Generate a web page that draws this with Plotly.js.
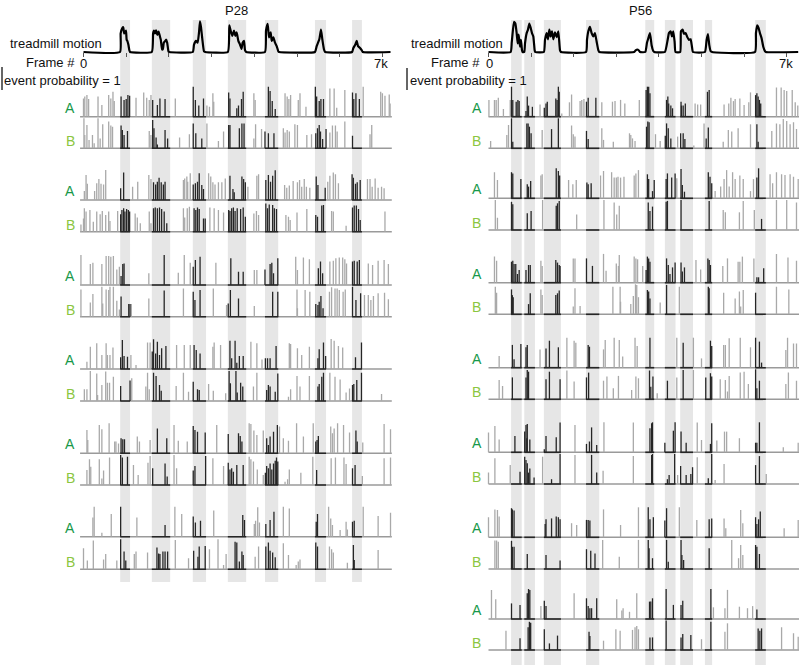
<!DOCTYPE html>
<html>
<head>
<meta charset="utf-8">
<script src="https://cdn.plot.ly/plotly-3.0.1.min.js"></script>
<style>body{margin:0;background:#fff}#chart{width:800px;height:665px}</style>
</head>
<body>
<div id="chart"></div>
<script>
// ---- data (frames, event probability / normalised speed) ----
const frameTicks = [0, 1000, 2000, 3000, 4000, 5000, 6000, 7000];
const frameTickText = ['0', '7k'];   // only the ends are labelled

// motion epochs (start/end frame)
const p28BandStart = [860, 1600, 2560, 3380, 4250, 5420, 6290];
const p28BandEnd   = [1090, 2030, 2870, 3810, 4560, 5680, 6520];
const p56BandStart = [530, 840, 1300, 2290, 3680, 4140, 4500, 5080, 6260];
const p56BandEnd   = [780, 1090, 1700, 2600, 3890, 4390, 4800, 5250, 6510];

// treadmill motion
const p28MotionFrame = [0, 855, 870, 909, 933, 950, 972, 995, 1010, 1026, 1050, 1075, 1089,
  1600, 1630, 1650, 1674, 1700, 1730, 1760, 1790, 1810, 1840, 1860, 1880, 1910, 1935, 1960, 1990, 2010,
  2560, 2588, 2635, 2673, 2705, 2728, 2752, 2783, 2822, 2850,
  3380, 3415, 3446, 3485, 3525, 3556, 3587, 3626, 3665, 3700, 3727, 3759, 3782, 3810,
  4250, 4274, 4313, 4344, 4383, 4407, 4446, 4485, 4524, 4563, 4580,
  5420, 5461, 5523, 5562, 5593, 5632, 5660,
  6290, 6320, 6366, 6398, 6429, 6476, 6515, 6540, 7190];
const p28MotionValue = [0, 0, .6, .77, .8, .6, .63, .69, .4, .36, .24, .05, 0,
  0, .6, .69, .6, .7, .55, .66, .5, .4, .08, .1, .3, .35, .4, .3, .02, 0,
  0, .24, .36, .3, .63, .99, .8, .41, .02, 0,
  0, .86, .69, .52, .69, .52, .63, .36, .24, .1, .3, .36, .06, 0,
  0, .69, .91, .47, .63, .36, .47, .3, .19, .02, 0,
  0, .19, .41, .72, .41, .08, 0,
  0, .13, .24, .36, .19, .13, .06, 0, 0];

const p56MotionFrame = [0, 520, 545, 559, 598, 630, 661, 685, 708, 739, 763, 786, 800,
  840, 857, 896, 927, 958, 990, 1021, 1052, 1083, 1095,
  1300, 1326, 1365, 1396, 1428, 1459, 1490, 1522, 1561, 1600, 1639, 1678, 1700,
  2290, 2312, 2343, 2382, 2421, 2460, 2499, 2539, 2578, 2600,
  3420, 3454, 3493, 3530, 3556,
  3680, 3720, 3751, 3790, 3829, 3868, 3890,
  4140, 4205, 4236, 4276, 4307, 4338, 4369, 4390,
  4500, 4518, 4557, 4588, 4627, 4667, 4706, 4745, 4776, 4800,
  5080, 5120, 5151, 5183, 5214, 5250,
  6256, 6278, 6309, 6340, 6372, 6411, 6450, 6489, 6510, 7270];
const p56MotionValue = [0, 0, .3, .5, .97, .92, .61, .28, .56, .17, .39, .06, 0,
  0, .28, .61, .72, .92, .78, .61, .5, .06, 0,
  0, .39, .61, .41, .72, .5, .67, .41, .63, .48, .67, .06, 0,
  0, .39, .67, .81, .61, .5, .61, .33, .06, 0,
  0, .05, .08, .05, 0,
  0, .3, .44, .61, .22, .03, 0,
  0, .39, .61, .67, .5, .67, .33, 0,
  0, .67, .72, .59, .61, .48, .39, .41, .17, 0,
  0, .39, .58, .22, .03, 0,
  0, .61, .86, .78, .61, .44, .17, .03, 0, 0];

// event traces: [frame, event probability]
const p28_A1 = [[0,.61],[30,.67],[80,.72],[120,.59],[340,.67],[430,.39],[590,.72],[640,.61],[690,.83],[720,.52],[880,.67],[950,.56],[1000,.59],[1040,.72],[1080,.7],[1230,.63],[1410,.81],[1480,.63],[1540,.56],[1580,.72],[1620,.56],[1730,.39],[1790,.61],[1910,.59],[2150,.61],[2570,1],[2620,.56],[2700,.37],[2810,.61],[2890,.37],[2950,.33],[3030,.78],[3050,.5],[3400,.81],[3430,.61],[3590,.28],[3630,.37],[3700,.59],[3740,.83],[3990,.78],[4020,.56],[4330,1],[4370,.86],[4420,.52],[4490,.26],[4720,.78],[4770,.67],[4810,.59],[4850,.72],[5030,.56],[5070,.78],[5210,.33],[5430,1],[5460,.67],[5520,.52],[5560,.59],[5620,.59],[5770,.94],[5870,.94],[5930,.3],[6120,.89],[6300,.81],[6330,.59],[6380,.78],[6460,.59],[6550,1],[6960,.83],[7000,.78],[7060,.7],[7160,.74],[7180,.44]];
const p28_B1 = [[10,1],[30,.44],[80,.78],[130,.28],[210,.44],[250,.17],[340,1],[390,.33],[450,.8],[590,.89],[640,.76],[680,.72],[880,.76],[910,.61],[950,.44],[1030,.58],[1540,.58],[1580,.44],[1620,.94],[1650,.67],[1700,.36],[1730,.13],[1910,.61],[1970,.33],[2250,.36],[2480,.47],[2570,.83],[2630,.5],[2770,.33],[2890,.83],[3160,.24],[3280,.56],[3400,.78],[3430,.78],[3650,.67],[3710,.83],[3760,.83],[3990,.33],[4030,.8],[4170,.64],[4250,.56],[4330,.5],[4460,.5],[4680,.67],[4720,.53],[4770,.61],[4820,.56],[4950,.8],[5010,.78],[5230,.44],[5340,.47],[5440,.5],[5480,.67],[5520,.78],[5550,.56],[5600,.31],[5680,.64],[5770,.53],[5830,.76],[5900,.76],[5940,.56],[6120,.89],[6300,.42],[6710,.47],[6750,.78]];
const p28_A2 = [[20,.3],[60,.83],[90,.54],[260,.3],[310,.56],[360,.7],[410,.54],[470,.52],[520,1],[870,.39],[940,.92],[1150,.44],[1270,.61],[1530,.83],[1580,.7],[1640,.59],[1690,.52],[1730,.61],[1770,.74],[1820,.59],[1870,.52],[1910,.61],[2340,.67],[2370,.72],[2420,.78],[2440,.61],[2500,.89],[2570,.52],[2620,.56],[2670,.61],[2710,.89],[2770,.5],[2810,.37],[2930,.89],[2980,.78],[3030,.59],[3080,.52],[3160,.59],[3240,.59],[3320,.72],[3430,.81],[3500,.37],[3530,.26],[3710,.78],[3750,.7],[3790,.59],[3850,.44],[4060,.81],[4100,.86],[4270,.67],[4330,.83],[4380,.61],[4430,.81],[4490,.99],[4710,.5],[4760,.41],[4820,.48],[4910,.63],[5010,.59],[5060,.67],[5110,.44],[5170,.7],[5220,.44],[5300,.41],[5450,.78],[5490,.5],[5660,.41],[5720,.61],[5770,.81],[5850,.92],[5900,.86],[5970,.56],[6290,.86],[6320,.74],[6370,.54],[6410,.59],[6480,.67],[6650,.7],[6710,.7],[6760,.44],[6830,.72],[6900,.41],[6980,.44],[7040,.39]];
const p28_B2 = [[-60,.24],[0,.44],[20,.78],[60,.67],[150,.72],[230,.33],[310,.67],[390,.58],[440,.69],[520,.56],[590,.67],[620,.36],[800,.69],[870,.58],[900,.72],[940,.78],[970,.67],[1010,.76],[1050,.72],[1080,.67],[1210,.61],[1260,.47],[1330,.28],[1540,.67],[1580,.28],[1640,.78],[1680,.81],[1730,.78],[1780,.81],[1830,.76],[1890,.67],[1950,.28],[2340,.78],[2370,.47],[2430,.78],[2480,.83],[2590,.78],[2630,.72],[2670,.81],[2710,.76],[2810,.44],[2850,.44],[2960,.81],[3060,.78],[3160,.72],[3280,.64],[3400,.72],[3430,.69],[3470,.78],[3510,.81],[3550,.69],[3600,.78],[3680,.76],[3740,.81],[3790,.5],[3990,.61],[4050,.69],[4100,.56],[4270,.94],[4310,.78],[4350,.91],[4430,.89],[4470,.78],[4520,.76],[4740,.56],[4800,.5],[4840,.39],[5000,.64],[5230,.76],[5440,.56],[5480,.5],[5580,.87],[5620,.89],[5810,.69],[5850,.67],[6150,.2],[6300,.81],[6340,.87],[6390,.87],[6440,.76],[6480,.39],[7060,.67]];
const p28_A3 = [[-60,1],[160,.7],[220,.74],[430,.7],[530,.97],[590,.97],[640,.94],[700,.97],[780,.52],[840,.61],[880,.3],[920,.7],[950,.72],[1530,.39],[1890,1],[2220,.41],[2360,1],[2500,.74],[2570,.61],[2620,.83],[2730,.94],[3100,.74],[3450,.89],[3630,.44],[3740,.44],[4000,.5],[4060,.5],[4250,.52],[4370,.7],[4410,.74],[4450,.39],[4550,.89],[4970,.94],[5010,.5],[5150,.92],[5290,.86],[5500,.56],[5550,.78],[5600,.39],[5770,.78],[5850,.81],[5910,.89],[5990,.92],[6070,.92],[6120,.86],[6160,.72],[6300,.78],[6340,.81],[6410,.78],[6460,.83],[6670,.72],[6770,.67],[6900,.81],[7040,.83],[7140,.7]];
const p28_B3 = [[-60,.91],[160,.47],[220,.76],[430,1],[450,.44],[530,.91],[590,.89],[620,1],[700,1],[780,.53],[840,.24],[880,.67],[1060,.42],[1090,.42],[1120,.42],[1530,.61],[1890,.87],[2340,.94],[2570,.83],[2610,.56],[2730,.89],[3040,.94],[3350,.39],[3390,.44],[3440,.89],[3630,.61],[4000,.36],[4430,.83],[4550,.83],[5000,.91],[5010,.28],[5190,.89],[5300,.83],[5440,.42],[5490,.39],[5520,.5],[5560,.69],[5610,.28],[5760,.83],[5810,.98],[5890,.94],[5940,.94],[5990,.89],[6080,.83],[6130,.91],[6300,1],[6380,.56],[6490,.78],[6580,.72],[6670,.72],[6730,.56],[6790,.69],[6900,.78],[7050,.8],[7140,.58]];
const p28_A4 = [[80,.24],[160,.74],[310,.86],[430,.47],[530,.86],[560,.47],[620,.47],[690,.72],[870,.39],[910,.97],[950,.43],[1030,.41],[1110,.47],[1230,.13],[1500,.88],[1560,.88],[1610,.58],[1640,.99],[1690,.52],[1730,.91],[1780,.47],[1830,.69],[1930,.77],[2180,.8],[2360,.8],[2500,.8],[2590,.8],[2640,.63],[2730,.52],[3030,.74],[3060,.88],[3210,.8],[3430,.94],[3470,.36],[3550,.94],[3590,.21],[3650,.43],[3740,.43],[3920,.91],[4060,.86],[4180,.32],[4260,.36],[4310,.36],[4370,.36],[4510,.77],[4820,.86],[4850,.83],[5010,.69],[5110,.47],[5290,.74],[5490,.36],[5520,.66],[5620,.88],[5670,.43],[5800,1],[5870,.94],[5970,.77],[6070,.72],[6370,.39],[6510,.88]];
const p28_B4 = [[20,.39],[80,.39],[160,1],[310,.92],[330,.2],[430,.53],[520,.98],[560,.61],[610,.61],[700,.81],[870,.5],[1090,.68],[1130,.76],[1460,.48],[1500,.94],[1540,.39],[1640,.94],[1700,.83],[1780,.53],[1820,.34],[2170,.5],[2340,.94],[2460,.31],[2570,.64],[2670,.39],[2710,.37],[2930,.57],[3040,.34],[3330,.26],[3410,1],[3440,.59],[3570,1],[3600,.28],[3680,.61],[3730,.48],[3980,.48],[4060,.94],[4290,.37],[4330,.53],[4370,.48],[4490,.31],[4550,.92],[4800,.14],[4850,.39],[5000,.83],[5070,.48],[5290,.83],[5490,.48],[5520,.57],[5580,.81],[5620,.94],[5770,.94],[5890,.81],[6010,.72],[6150,.28],[6230,.42],[6300,.53],[6330,.57],[6400,.7],[6510,.94],[6980,.23]];
const p28_A5 = [[80,.78],[100,.44],[370,.94],[430,.8],[600,1],[730,.39],[760,.39],[820,.33],[880,.5],[920,.47],[960,.47],[1260,.56],[1310,.39],[1560,.44],[1730,.83],[1950,.5],[2120,.94],[2220,.42],[2430,.39],[2570,.91],[2610,.78],[2670,.72],[2850,.69],[3120,.94],[3390,.64],[3630,.67],[3670,.58],[3710,.39],[3880,1],[3920,.98],[3990,.76],[4060,.61],[4210,.76],[4290,.5],[4330,.28],[4370,.56],[4450,.72],[4540,.94],[4590,.89],[4680,.5],[4800,.42],[4990,1],[5150,.56],[5380,1],[5440,.39],[5470,.44],[5500,.58],[5790,.89],[5830,.67],[5870,.83],[5950,1],[6090,.94],[6230,.69],[6380,.76],[6410,.39],[6540,.36],[7040,.98],[7190,.8]];
const p28_B5 = [[80,.5],[140,.86],[170,.61],[370,.86],[430,.22],[470,.48],[610,.92],[870,1],[910,.92],[1030,.94],[1170,.67],[1280,.33],[1510,.74],[1560,.97],[1620,.56],[1910,.72],[1960,.28],[2120,1],[2180,.56],[2570,.48],[2610,.63],[2860,.97],[3030,.89],[3280,.63],[3390,.74],[3430,.52],[3470,.56],[3510,.44],[3590,.67],[3740,.67],[3880,.94],[3920,.86],[3980,.78],[4070,.52],[4210,.33],[4260,.41],[4290,.63],[4330,.56],[4370,.72],[4410,.52],[4450,.72],[4490,.81],[4520,.92],[4550,.78],[4720,.11],[4780,.19],[4820,.52],[5090,.41],[5370,.94],[5460,.5],[5800,.89],[5900,.92],[6100,.92],[6150,.7],[6300,.56],[6360,.67],[6530,.3],[7040,.89],[7190,.92]];
const p28_A6 = [[220,.64],[250,1],[430,.13],[650,.76],[870,1],[1250,.64],[1910,.39],[2140,1],[2300,.76],[2570,.67],[2620,.47],[2740,.53],[3050,.87],[3730,.72],[3770,.56],[4000,.42],[4030,.53],[4080,.98],[4120,.47],[4270,.42],[4370,.56],[4460,.83],[4680,1],[4820,.94],[5450,.5],[5480,.76],[5740,1],[5790,.61],[5830,.39],[6010,.22],[6150,.5],[6180,.24],[6300,.5],[6340,.53],[6550,1],[6900,.69],[7190,.8]];
const p28_B6 = [[0,.7],[90,.29],[230,.96],[470,.33],[520,.51],[780,.29],[870,1],[950,.59],[990,.29],[1190,.51],[1230,.59],[1500,.56],[1720,.73],[1760,.53],[1790,.51],[1860,.59],[1910,.59],[1970,.59],[2150,.98],[2460,.37],[2580,.62],[2680,.42],[2710,.76],[2850,.78],[2950,.67],[3150,1],[3280,.14],[3340,.51],[3550,.92],[3590,.89],[3650,.26],[3710,.59],[3740,.48],[4020,.42],[4100,.76],[4270,.76],[4330,.89],[4370,.62],[4430,.56],[4490,.4],[4680,.87],[4800,.48],[4980,.14],[5030,.26],[5070,.33],[5440,.89],[5480,.76],[5760,.76],[5810,.67],[5850,.56],[6180,.22],[6320,.81],[6340,.31],[6900,.64]];

const p56_A1 = [[10,.56],[140,.56],[180,.56],[230,.63],[350,.26],[510,.56],[540,1],[570,.56],[650,.5],[690,.56],[720,.52],[880,.19],[910,.67],[940,.37],[1030,.33],[1210,.41],[1310,.3],[1350,.44],[1380,.5],[1580,.61],[1610,.56],[1640,1],[1660,.83],[1720,.11],[1900,.48],[1950,.74],[2150,.52],[2190,.56],[2240,.59],[2300,.5],[2340,.63],[2520,.63],[2660,.48],[2910,.5],[2970,.52],[3100,.56],[3200,.44],[3540,.56],[3700,.89],[3730,1],[3760,1],[3790,.78],[4180,.56],[4210,.67],[4230,.44],[4280,.37],[4320,.28],[4520,.5],[4530,.37],[4570,.37],[4620,.44],[4850,.44],[4910,.41],[4980,.41],[5140,.83],[5180,.89],[5530,.41],[5640,.44],[5690,.63],[5750,.52],[5790,.59],[5900,.61],[6000,.39],[6110,.48],[6150,.81],[6270,.72],[6300,.78],[6330,.67],[6360,.56],[6390,.44],[6760,.97],[6870,.97],[6940,.89],[7000,.86],[7130,.89],[7200,.48],[7260,.37]];
const p56_B1 = [[50,.24],[430,.44],[470,.78],[540,1],[570,.22],[900,.83],[930,.83],[960,.72],[1000,.5],[1260,.61],[1480,.64],[1640,1],[1950,.76],[1990,.47],[2030,.39],[2300,.58],[2340,.31],[2660,.67],[2700,.28],[2930,.22],[3310,.5],[3340,.44],[3380,.33],[3440,.24],[3710,.72],[3740,.89],[3770,.87],[3920,.47],[4030,.24],[4150,.42],[4180,.83],[4220,.67],[4280,.33],[4440,.39],[4510,.5],[4570,.5],[4610,.31],[4820,.09],[5060,.83],[5110,.33],[5160,.69],[5510,.22],[5630,.61],[5710,.56],[5860,.67],[6150,.8],[6300,.8],[6330,.22],[6650,.58],[6760,.83],[6840,.8],[6920,.98],[7000,.91],[7080,.8],[7160,.87],[7230,.64]];
const p56_A2 = [[140,.87],[210,.61],[540,.87],[570,.83],[760,.64],[910,.47],[940,.39],[990,.58],[1230,.76],[1260,.8],[1590,1],[1640,.91],[1670,.76],[1880,.61],[1980,.47],[2060,.61],[2310,.53],[2340,.47],[2410,.5],[2630,.76],[2700,.91],[2890,.87],[2950,.69],[3000,.69],[3040,.72],[3100,.69],[3180,.72],[3420,.76],[3460,.83],[3520,.94],[3730,.8],[3760,.64],[3850,.24],[3890,.61],[4170,.64],[4200,.83],[4300,.69],[4380,.83],[4420,.67],[4520,.98],[4550,.44],[4600,.22],[5160,.87],[5200,.72],[5240,.5],[5320,.24],[5450,.39],[5530,.64],[5590,.94],[5650,.39],[5730,.87],[5790,.64],[5900,.76],[5980,.64],[6150,.24],[6220,.64],[6300,.69],[6340,1],[6610,.8],[6670,.5],[6760,.87],[6880,.8],[6960,.78],[7080,.8],[7160,.72],[7270,.64]];
const p56_B2 = [[160,1],[210,.41],[540,.94],[570,.86],[910,.56],[1000,.63],[1270,1],[1590,.81],[1620,.89],[1660,.97],[2070,.52],[2710,1],[2950,.92],[3010,.52],[3070,.81],[3750,.92],[3790,.63],[3850,.78],[4170,.94],[4200,.97],[4520,1],[5180,.97],[5510,.67],[5560,.59],[5890,.59],[5980,.97],[6240,.67],[6410,.37],[6760,1],[7000,1],[7230,.92]];
const p56_A3 = [[140,.87],[190,.73],[540,.7],[570,.73],[600,.62],[640,.62],[680,.29],[720,.42],[880,.42],[940,.59],[980,.59],[1230,.73],[1260,.56],[1580,.76],[1620,.67],[1660,.59],[1680,.56],[1990,.81],[2030,.81],[2300,.81],[2440,.56],[2700,.96],[2760,.4],[3000,.64],[3050,.56],[3070,.92],[3420,.87],[3460,.81],[3500,.78],[3620,.56],[3700,.42],[3730,.87],[3760,.81],[3790,.7],[4180,.81],[4220,.59],[4260,.29],[4320,.51],[4380,.67],[4520,.67],[4550,.37],[4600,.51],[4870,.76],[4980,.44],[5150,.81],[5180,.76],[5210,.59],[5500,.56],[5610,.81],[5860,.7],[5900,.7],[5960,.87],[6230,.81],[6300,.18],[6340,.18],[6460,.48],[6760,.96],[7030,.84],[7230,.73]];
const p56_B3 = [[160,.92],[190,.72],[540,.83],[560,.64],[580,.57],[940,.34],[980,.7],[1230,.83],[1260,.64],[1580,.64],[1620,.7],[1660,.79],[1990,.26],[2030,.87],[2150,.28],[2920,.92],[3090,.92],[3100,.42],[3340,.34],[3400,.61],[3450,1],[3480,.98],[3520,.57],[3730,.81],[3760,.76],[3790,.53],[4030,.39],[4180,.98],[4480,.92],[5160,.92],[5180,.87],[5520,.72],[5790,.53],[5890,.76],[5920,.26],[5980,.81],[6270,.72],[6760,.92],[7050,.83]];
const p56_A4 = [[250,.39],[560,.76],[600,.28],[760,.79],[880,.68],[910,.76],[1210,.61],[1350,.64],[1430,.9],[1640,.68],[1840,1],[2010,.9],[2050,.83],[2340,.76],[2370,.7],[2700,.61],[2740,.92],[2950,1],[3070,.92],[3150,.37],[3440,1],[3490,.72],[3790,1],[4420,1],[4570,.83],[4810,1],[5000,.31],[5210,.9],[5240,.72],[5520,.76],[5560,.76],[5650,.98],[5910,1],[6150,.68],[6270,1],[6360,.87],[6410,.17],[6980,.59],[7020,1],[7160,.81],[7230,.81]];
const p56_B4 = [[250,.64],[330,.44],[560,.73],[880,.73],[910,.98],[940,.92],[1350,.67],[1430,.92],[1680,.67],[1840,.96],[2010,.59],[2300,.73],[2350,.89],[2700,.62],[2780,.76],[2930,.37],[3050,.78],[3360,.31],[3460,.76],[3520,.7],[3780,.96],[3810,.42],[3860,.76],[3960,.2],[4200,.62],[4420,.73],[4570,.98],[4810,.98],[5100,.73],[5210,.87],[5240,.76],[5440,.67],[5560,.64],[5610,.26],[5650,.78],[5910,.89],[6000,.92],[6100,.51],[6270,1],[6300,.37],[6360,.62],[6980,.51],[7040,.89],[7230,.62]];
const p56_A5 = [[0,.66],[150,.88],[250,.43],[620,.54],[850,.69],[880,.91],[900,.47],[910,.94],[970,.43],[1310,.1],[1350,.54],[1590,.5],[1680,.99],[2030,.91],[2300,.28],[2370,.36],[2420,.83],[2540,.24],[2710,1],[3400,.99],[3790,.8],[3830,.97],[3850,1],[4140,.32],[4340,.72],[4380,1],[4520,.69],[4640,.32],[4900,.99],[5000,.41],[5210,.28],[5240,.97],[5360,.39],[5540,.69],[5590,.69],[5890,.47],[6270,.32],[6300,.32],[6360,1],[6920,.17],[7270,.32]];
const p56_B5 = [[0,.38],[150,.86],[510,.63],[740,.41],[850,.91],[880,.8],[910,.69],[940,.38],[970,.52],[1070,.22],[1270,.91],[1480,.16],[1680,1],[2030,.97],[2420,.97],[2540,.38],[2690,.44],[3400,.93],[3830,.97],[3850,1],[4200,.16],[4240,.3],[4370,1],[4440,.3],[4510,.6],[4640,.3],[4750,.33],[4790,.56],[4900,.89],[5160,.19],[5240,1],[5320,.13],[5530,.67],[6270,.63],[6360,.93],[6520,.33]];
const p56_A6 = [[0,.67],[150,.93],[210,.91],[250,.69],[540,.97],[560,.93],[600,.89],[1330,.44],[1350,.6],[1480,.63],[1590,.69],[1640,.67],[1680,.6],[1950,.47],[2070,.41],[2300,.58],[2340,.58],[2380,.56],[2700,.93],[3100,.41],[3520,1],[3750,1],[3790,.6],[3870,.67],[4140,.56],[4180,.97],[4480,1],[4890,.58],[5180,.6],[5240,.63],[5530,.63],[5570,.3],[5920,.91],[5970,.47],[6270,.67],[6300,.44],[6340,.6],[6380,.86],[6940,.3],[7270,.58]];
const p56_B6 = [[150,.95],[190,.95],[230,.91],[540,.94],[560,.74],[600,.74],[910,.5],[1350,.47],[1680,.28],[2300,.66],[2400,.61],[2500,.52],[2680,.97],[3070,.41],[3520,.97],[3750,.97],[3770,.69],[3850,.36],[4180,.97],[4220,.24],[4520,.97],[4540,.47],[4580,.3],[5180,.69],[5710,.97],[5870,.36],[5920,.8],[5970,.47],[6270,.8],[6300,.74],[6360,.5]];
const p56_A7 = [[70,.97],[170,.66],[540,.52],[740,.47],[910,.86],[940,1],[970,.97],[1230,.43],[1310,.61],[1350,.43],[2010,.86],[2300,.69],[2340,.43],[2380,.36],[2420,.36],[2540,.69],[3010,.66],[3130,.28],[3160,.36],[3310,.24],[3480,.86],[3780,.58],[3810,.58],[3850,.69],[4170,1],[4340,.47],[4520,.47],[4560,.61],[5220,1],[5280,.39],[5550,.36],[5610,.97],[5890,.41],[6080,.36],[6200,.43],[6300,.32]];
const p56_B7 = [[410,.64],[740,.39],[930,.76],[960,.94],[990,.91],[1310,.69],[1430,.22],[1620,.48],[2360,.61],[2380,.47],[2700,.31],[2990,.69],[3090,.64],[3380,.67],[3440,.76],[3480,.8],[3520,.69],[3790,.42],[3850,.42],[4170,.98],[4520,.42],[4560,.53],[4750,.5],[5000,.36],[5220,.94],[5550,.61],[5610,.89],[6330,.72],[6370,.64],[6410,.72],[6880,.76],[7160,.56],[7270,.44]];

// ---- layout constants ----
const W = 800, H = 665;
const FONT = 'Arial, "Liberation Sans", sans-serif';
const SPIKE_AMP = 30;   // px for probability 1 in a row
const MOTION_AMP = 31;
const GRAY = '#a9a9a9', DARK = '#262626', BAND = '#e6e6e6';

const p28Rows = [p28_A1, p28_B1, p28_A2, p28_B2, p28_A3, p28_B3, p28_A4, p28_B4, p28_A5, p28_B5, p28_A6, p28_B6];
const p28Base = [116.7, 148.3, 200, 231.7, 285, 316.7, 369, 401, 453.3, 485, 536.7, 569.3];
const p56Rows = [p56_A1, p56_B1, p56_A2, p56_B2, p56_A3, p56_B3, p56_A4, p56_B4, p56_A5, p56_B5, p56_A6, p56_B6, p56_A7, p56_B7];
const p56Base = [116.7, 148.3, 198.3, 230, 282.7, 314.3, 367.7, 399.3, 452.3, 484, 537.3, 569, 619, 650];

function buildPanel(xa, ya, rows, base, bStart, bEnd, mFrame, mValue, xStart, xEnd) {
  const inBand = t => bStart.some((s, i) => t >= s && t <= bEnd[i]);
  const gx = [], gy = [], kx = [], ky = [], lx = [], ly = [], sx = [], sy = [];
  rows.forEach((row, r) => {
    const y0 = -base[r];
    row.forEach(([t, h]) => {
      const tx = inBand(t) ? kx : gx, ty = inBand(t) ? ky : gy;
      tx.push(t, t, null);
      ty.push(y0, y0 + h * SPIKE_AMP, null);
    });
    lx.push(xStart, xEnd, null); ly.push(y0, y0, null);
    bStart.forEach((s, i) => { sx.push(s, bEnd[i], null); sy.push(y0, y0, null); });
  });
  const common = {xaxis: xa, yaxis: ya, mode: 'lines', hoverinfo: 'skip', showlegend: false};
  return [
    Object.assign({x: lx, y: ly, line: {color: '#9a9a9a', width: 1.4}}, common),
    Object.assign({x: gx, y: gy, line: {color: GRAY, width: 1.3}}, common),
    Object.assign({x: kx, y: ky, line: {color: DARK, width: 1.3}}, common),
    Object.assign({x: sx, y: sy, line: {color: DARK, width: 1.6}}, common),
    Object.assign({x: mFrame, y: mValue.map(v => -52 + v * MOTION_AMP),
      line: {color: '#000', width: 2.2, shape: 'spline', smoothing: 0.4}}, common)
  ];
}

const data = [].concat(
  buildPanel('x', 'y', p28Rows, p28Base, p28BandStart, p28BandEnd, p28MotionFrame, p28MotionValue, -80, 7220),
  buildPanel('x2', 'y2', p56Rows, p56Base, p56BandStart, p56BandEnd, p56MotionFrame, p56MotionValue, 0, 7290)
);

const shapes = [];
p28BandStart.forEach((s, i) => shapes.push({type: 'rect', xref: 'x', yref: 'y', x0: s, x1: p28BandEnd[i], y0: -20, y1: -582,
  fillcolor: BAND, line: {width: 0}, layer: 'below'}));
p56BandStart.forEach((s, i) => shapes.push({type: 'rect', xref: 'x2', yref: 'y2', x0: s, x1: p56BandEnd[i], y0: -20, y1: -665,
  fillcolor: BAND, line: {width: 0}, layer: 'below'}));
// scale bars (event probability = 1)
[[2, 67, 90], [407, 68, 90]].forEach(([x, a, b]) => shapes.push({type: 'line', xref: 'paper', yref: 'paper',
  x0: x / W, x1: x / W, y0: 1 - a / H, y1: 1 - b / H, line: {color: '#333', width: 1.5}}));

function ann(text, x, y, size, color, xref) {
  return {text: text, x: xref ? x : x / W, y: 1 - y / H, xref: xref || 'paper', yref: 'paper', showarrow: false,
    xanchor: 'center', yanchor: 'middle', font: {family: FONT, size: size, color: color || '#111'}};
}
const annotations = [
  ann('P28', 236, 10, 13), ann('P56', 640, 10, 13),
  ann('treadmill motion', 56, 44, 13), ann('treadmill motion', 457, 44, 13),
  ann('Frame #', 50, 63, 13), ann('Frame #', 456, 63, 13),
  ann('event probability = 1', 62, 81, 13), ann('event probability = 1', 468, 81, 13),
  // frame axis end labels, placed on the data axes
  ann(frameTickText[0], frameTicks[0], 64, 13, '#111', 'x'), ann(frameTickText[1], frameTicks[7] - 40, 64, 13, '#111', 'x'),
  ann(frameTickText[0], frameTicks[0] + 30, 64, 13, '#111', 'x2'), ann(frameTickText[1], frameTicks[7] - 10, 64, 13, '#111', 'x2')
];
p28Base.forEach((b, i) => annotations.push(i % 2 === 0 ? ann('A', 70, b - 9, 14, '#17984a') : ann('B', 70, b - 7, 14, '#8cc63f')));
p56Base.forEach((b, i) => annotations.push(i % 2 === 0 ? ann('A', 477, b - 9, 14, '#17984a') : ann('B', 477, b - 7, 14, '#8cc63f')));

const xCommon = {anchor: 'free', position: 1 - 52 / H, tickvals: frameTicks, showticklabels: false,
  ticks: 'outside', ticklen: 4, tickcolor: '#555', tickwidth: 1, showgrid: false, zeroline: false,
  showline: false, fixedrange: true};
const yCommon = {range: [-H, 0], domain: [0, 1], visible: false, fixedrange: true};

const layout = {
  width: W, height: H,
  margin: {l: 0, r: 0, t: 0, b: 0},
  paper_bgcolor: '#fff', plot_bgcolor: 'rgba(0,0,0,0)',
  showlegend: false,
  xaxis: Object.assign({domain: [79.23 / W, 393.08 / W], range: [-100, 7250]}, xCommon),
  xaxis2: Object.assign({domain: [484.24 / W, 799.05 / W], range: [-100, 7290]}, xCommon),
  yaxis: Object.assign({anchor: 'x'}, yCommon),
  yaxis2: Object.assign({anchor: 'x2'}, yCommon),
  shapes: shapes,
  annotations: annotations
};

Plotly.newPlot('chart', data, layout, {staticPlot: true});
</script>
</body>
</html>
